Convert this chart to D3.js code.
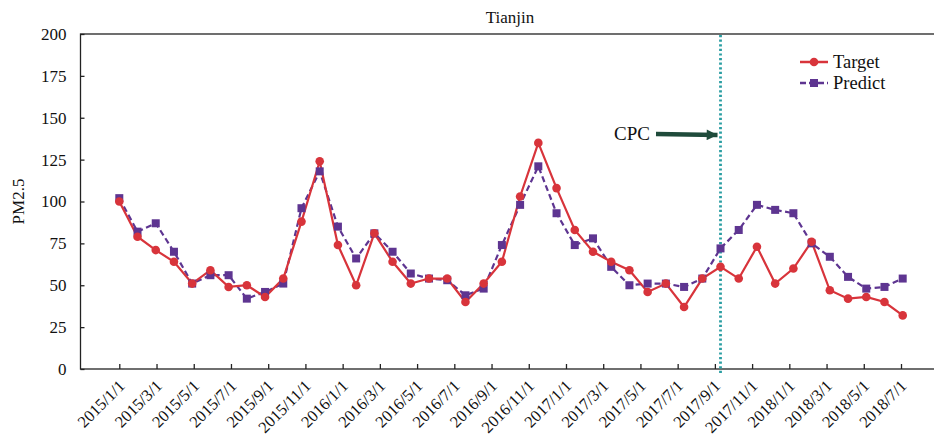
<!DOCTYPE html>
<meta charset="utf-8">
<head>
    <title>Tianjin PM2.5</title>
</head>
<style>
  body {
    margin: 0;
    background: #fff;
  }
  text {
    font-family: "Liberation Serif", "Times New Roman", serif;
    fill: #111;
  }
  .axis path,
  .axis line {
    fill: none;
    stroke: #222;
    stroke-width: 1.3px;
  }
</style>
<body>
<script src="https://cdn.jsdelivr.net/npm/d3@7/dist/d3.min.js"></script>
<script>
// tick labels on the time axis (every second month)
var tickLabels = ["2015/1/1", "2015/3/1", "2015/5/1", "2015/7/1", "2015/9/1", "2015/11/1",
                  "2016/1/1", "2016/3/1", "2016/5/1", "2016/7/1", "2016/9/1", "2016/11/1",
                  "2017/1/1", "2017/3/1", "2017/5/1", "2017/7/1", "2017/9/1", "2017/11/1",
                  "2018/1/1", "2018/3/1", "2018/5/1", "2018/7/1"];

// monthly PM2.5 values
var target = [100, 79, 71, 64, 51, 59, 49, 50, 43, 54, 88, 124, 74, 50, 81,
              64, 51, 54, 54, 40, 51, 64, 103, 135, 108, 83, 70, 64, 59, 46, 51, 37,
              54, 61, 54, 73, 51, 60, 76, 47, 42, 43, 40, 32];
var predict = [102, 82, 87, 70, 51, 56, 56, 42, 46, 51, 96, 118, 85, 66, 81,
               70, 57, 54, 53, 44, 48, 74, 98, 121, 93, 74, 78, 61, 50, 51, 51, 49,
               54, 72, 83, 98, 95, 93, 75, 67, 55, 48, 49, 54];

var yTicks = [0, 25, 50, 75, 100, 125, 150, 175, 200];
var cpcIndex = 33;

var width = 934, height = 443;
var plotLeft = 80.5, plotTop = 34, plotBottom = 369, plotRight = 936;

var svg = d3.select("body").append("svg")
    .attr("width", width)
    .attr("height", height);

var y = d3.scaleLinear().domain([0, 200]).range([plotBottom, plotTop]);
var x = d3.scaleLinear().domain([0, target.length - 1]).range([119.3, 902.7]);
var xTick = d3.scalePoint().domain(tickLabels).range([119.3, 901]);

// frame
svg.append("rect")
    .attr("x", plotLeft).attr("y", plotTop)
    .attr("width", plotRight - plotLeft).attr("height", plotBottom - plotTop)
    .style("fill", "none")
    .style("stroke", "#222")
    .style("stroke-width", 1.3);

// y axis, ticks pointing inward
var yAxis = svg.append("g")
    .attr("class", "axis")
    .attr("transform", "translate(" + plotLeft + ",0)")
    .call(d3.axisRight(y).tickValues(yTicks).tickSize(4).tickPadding(0));
yAxis.select(".domain").remove();
yAxis.selectAll("text")
    .attr("x", -14)
    .style("text-anchor", "end")
    .style("font-size", "17px");

// x axis, ticks pointing up
var xAxis = svg.append("g")
    .attr("class", "axis")
    .attr("transform", "translate(0," + plotBottom + ")")
    .call(d3.axisTop(xTick).tickSize(5));
xAxis.select(".domain").remove();
xAxis.selectAll("text")
    .attr("x", 0).attr("y", 0).attr("dy", 0)
    .attr("transform", "translate(6,18) rotate(-45)")
    .style("text-anchor", "end")
    .style("font-size", "16.5px");

svg.append("text")
    .attr("transform", "translate(24," + ((plotTop + plotBottom) / 2) + ") rotate(-90)")
    .style("text-anchor", "middle")
    .style("font-size", "17px")
    .text("PM2.5");

svg.append("text")
    .attr("x", 510).attr("y", 23)
    .style("text-anchor", "middle")
    .style("font-size", "17px")
    .text("Tianjin");

// CPC marker line
svg.append("line")
    .attr("x1", x(cpcIndex)).attr("x2", x(cpcIndex))
    .attr("y1", plotTop + 1).attr("y2", plotBottom + 4)
    .style("stroke", "#2b9ea3")
    .style("stroke-width", 2.8)
    .style("stroke-dasharray", "2.2,2.4");

// series
var line = d3.line()
    .x(function(d, i) { return x(i); })
    .y(function(d) { return y(d); });

var red = "#d8343b", purple = "#5e3591";

svg.append("path")
    .datum(predict)
    .attr("d", line)
    .style("fill", "none")
    .style("stroke", purple)
    .style("stroke-width", 2.2)
    .style("stroke-dasharray", "6,3.5");

svg.append("path")
    .datum(target)
    .attr("d", line)
    .style("fill", "none")
    .style("stroke", red)
    .style("stroke-width", 2.2);

svg.selectAll(".sq")
    .data(predict)
  .enter().append("rect")
    .attr("class", "sq")
    .attr("x", function(d, i) { return x(i) - 4; })
    .attr("y", function(d) { return y(d) - 4; })
    .attr("width", 8).attr("height", 8)
    .style("fill", purple);

svg.selectAll(".dot")
    .data(target)
  .enter().append("circle")
    .attr("class", "dot")
    .attr("cx", function(d, i) { return x(i); })
    .attr("cy", function(d) { return y(d); })
    .attr("r", 4.3)
    .style("fill", red);

// CPC annotation arrow
svg.append("defs").append("marker")
    .attr("id", "head")
    .attr("viewBox", "0 0 10 10")
    .attr("refX", 10).attr("refY", 5)
    .attr("markerWidth", 2.6).attr("markerHeight", 2.4)
    .attr("orient", "auto")
  .append("path")
    .attr("d", "M0,0L10,5L0,10Z")
    .style("fill", "#1f4b3b");

svg.append("line")
    .attr("x1", 656).attr("y1", 134)
    .attr("x2", x(cpcIndex) - 3).attr("y2", 135)
    .style("stroke", "#1f4b3b")
    .style("stroke-width", 4.5)
    .attr("marker-end", "url(#head)");

svg.append("text")
    .attr("x", 614).attr("y", 140)
    .style("font-size", "19px")
    .text("CPC");

// legend
var legend = [
  {name: "Target", color: red, dash: null, shape: "circle"},
  {name: "Predict", color: purple, dash: "6,3", shape: "square"}
];

var lg = svg.selectAll(".legend")
    .data(legend)
  .enter().append("g")
    .attr("class", "legend")
    .attr("transform", function(d, i) { return "translate(800," + (62 + i * 21) + ")"; });

lg.append("line")
    .attr("x1", 0).attr("x2", 28)
    .style("stroke", function(d) { return d.color; })
    .style("stroke-width", 2.5)
    .style("stroke-dasharray", function(d) { return d.dash; });

lg.filter(function(d) { return d.shape === "circle"; })
  .append("circle")
    .attr("cx", 14).attr("r", 4.3)
    .style("fill", function(d) { return d.color; });

lg.filter(function(d) { return d.shape === "square"; })
  .append("rect")
    .attr("x", 10).attr("y", -4).attr("width", 8).attr("height", 8)
    .style("fill", function(d) { return d.color; });

lg.append("text")
    .attr("x", 33).attr("y", 6)
    .style("font-size", "18.5px")
    .text(function(d) { return d.name; });
</script>
</body>
